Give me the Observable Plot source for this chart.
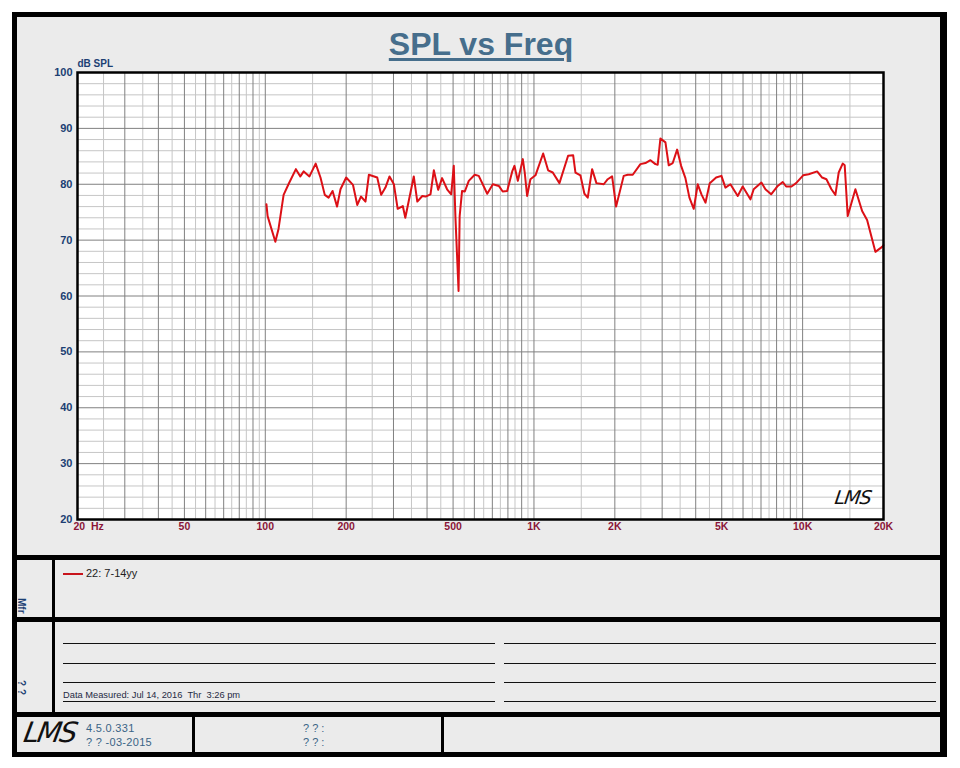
<!DOCTYPE html>
<html><head><meta charset="utf-8">
<script src="https://cdn.jsdelivr.net/npm/d3@7"></script>
<script src="https://cdn.jsdelivr.net/npm/@observablehq/plot@0.6"></script>
<style>
body{margin:0;background:#fff;font-family:Arial,"Liberation Sans",sans-serif;}
#page{position:relative;width:960px;height:768px;overflow:hidden;background:#fff;}
.abs{position:absolute;white-space:pre;}
.blk{position:absolute;background:#000;}
.ln{position:absolute;background:#111;height:1px;}
</style></head><body>
<div id="page">
  <div class="abs" style="left:12px;top:12px;width:935px;height:745px;background:#ebebeb;border:5px solid #000;border-right-width:7px;box-sizing:border-box;"></div>
  <div id="chart" class="abs" style="left:0;top:0;"></div>
  <div class="abs" style="left:0;top:28px;width:962px;text-align:center;font:bold 32px Arial,'Liberation Sans',sans-serif;line-height:32px;color:#466e8c;text-decoration:underline;text-decoration-thickness:3px;text-underline-offset:3px;">SPL vs Freq</div>
  <div class="abs" style="left:835px;top:486px;font:italic 300 19px 'DejaVu Sans','Liberation Sans',sans-serif;color:#111;letter-spacing:-1px;transform:skewX(-8deg);">LMS</div>
  <!-- dividers -->
  <div class="blk" style="left:12px;top:555px;width:935px;height:5px;"></div>
  <div class="blk" style="left:12px;top:617px;width:935px;height:5px;"></div>
  <div class="blk" style="left:12px;top:712px;width:935px;height:5px;"></div>
  <div class="blk" style="left:52px;top:560px;width:3px;height:152px;"></div>
  <div class="blk" style="left:192px;top:717px;width:3px;height:35px;"></div>
  <div class="blk" style="left:441px;top:717px;width:3px;height:35px;"></div>
  <!-- legend -->
  <div id="legend"></div>
  <div class="abs" style="left:16px;top:598px;font:bold 10px Arial,'Liberation Sans',sans-serif;color:#1c3f73;writing-mode:vertical-rl;">Mfr</div>
  <div class="abs" style="left:16px;top:680px;font:bold 10px Arial,'Liberation Sans',sans-serif;color:#1c3f73;writing-mode:vertical-rl;">? ?</div>
  <!-- note lines -->
  <div class="ln" style="left:63px;top:643px;width:432px;"></div>
  <div class="ln" style="left:63px;top:663px;width:432px;"></div>
  <div class="ln" style="left:63px;top:682px;width:432px;"></div>
  <div class="ln" style="left:63px;top:701px;width:432px;"></div>
  <div class="ln" style="left:504px;top:643px;width:432px;"></div>
  <div class="ln" style="left:504px;top:663px;width:432px;"></div>
  <div class="ln" style="left:504px;top:682px;width:432px;"></div>
  <div class="ln" style="left:504px;top:701px;width:432px;"></div>
  <div class="abs" style="left:63px;top:691px;font:9.3px Arial,'Liberation Sans',sans-serif;line-height:9.3px;color:#1f2a44;">Data Measured: Jul 14, 2016  Thr  3:26 pm</div>
  <!-- footer -->
  <div class="abs" style="left:24px;top:718px;font:italic 300 28px 'DejaVu Sans','Liberation Sans',sans-serif;line-height:30px;color:#111;letter-spacing:-2px;transform:skewX(-10deg);">LMS</div>
  <div class="abs" style="left:86px;top:723px;font:11px Arial,'Liberation Sans',sans-serif;line-height:11px;color:#3a6486;letter-spacing:0.3px;">4.5.0.331</div>
  <div class="abs" style="left:86px;top:737px;font:11px Arial,'Liberation Sans',sans-serif;line-height:11px;color:#3a6486;letter-spacing:0.3px;">? ? -03-2015</div>
  <div class="abs" style="left:303px;top:723px;font:11px Arial,'Liberation Sans',sans-serif;line-height:11px;color:#3a6486;">? ? :</div>
  <div class="abs" style="left:303px;top:737px;font:11px Arial,'Liberation Sans',sans-serif;line-height:11px;color:#3a6486;">? ? :</div>
</div>
<script>
// ---- data ----
const freqHz = [101,102,109,112,117,122,130,135,139,146,
  154,160.5,166.5,172,178,185,190.5,200,212,220,
  227,236,243,261,270,280,290,301,311,325,
  332,357,368,384,395,412,424,440,455,475,
  492,503,510,524,529,540,553,572,602,623,
  670,703,740,765,795,830,846,871,909,924,
  943,970,1013,1082,1129,1175,1244,1340,1399,1427,
  1489,1541,1586,1646,1708,1819,1882,1954,2022,2158,
  2234,2332,2490,2600,2714,2832,2888,2956,3086,3174,
  3285,3411,3530,3662,3790,3933,4071,4202,4349,4512,
  4765,4986,5160,5386,5734,5984,6393,6574,7024,7270,
  7634,8080,8434,8683,9087,9458,10044,10536,11324,11820,
  12264,12800,13243,13624,14098,14342,14716,15720,16652,17378,
  18656,19762,20000];
const splDb = [76.4,74.3,69.7,72.0,78.1,80.0,82.7,81.4,82.3,81.4,
  83.7,81.2,78.1,77.6,78.8,76.0,79.1,81.2,79.9,76.3,
  77.8,76.9,81.7,81.2,78.1,79.4,81.4,80.0,75.6,76.1,
  74.0,81.4,76.9,77.9,77.8,78.2,82.5,79.0,81.1,79.1,
  78.2,83.3,74.3,60.9,74.3,78.8,78.7,80.6,81.7,81.5,
  78.3,80.0,79.7,78.7,78.8,82.3,83.3,80.6,84.5,82.1,
  77.9,80.9,81.6,85.5,82.5,82.1,80.2,85.1,85.2,82.1,
  81.6,78.3,77.6,82.7,80.2,80.0,80.9,81.4,76.0,81.5,
  81.7,81.7,83.6,83.8,84.3,83.6,83.5,88.2,87.5,83.4,
  83.8,86.2,83.3,81.1,77.6,75.6,80.0,78.2,76.7,80.2,
  81.2,81.5,79.4,80.0,77.9,79.6,77.3,79.1,80.3,79.1,
  78.2,79.7,80.4,79.6,79.6,80.2,81.6,81.8,82.3,81.2,
  80.9,79.1,78.1,82.1,83.7,83.4,74.3,79.1,75.2,73.6,
  67.9,68.8,69.1];
const seriesName = "22: 7-14yy";
const xTicks = [20,50,100,200,500,1000,2000,5000,10000,20000];
const xTickLabels = ["20\u00a0\u00a0Hz","50","100","200","500","1K","2K","5K","10K","20K"];
const yTicks = [20,30,40,50,60,70,80,90,100];

// grid positions
const xMajor = [], xMinor = [];
for (const dec of [10,100,1000,10000]) {
  for (let k = 1; k <= 9; k++) {
    const v = k*dec; if (v >= 20 && v <= 20000) xMajor.push(v);
    const h = (k+0.5)*dec; if (h > 20 && h < 20000) xMinor.push(h);
  }
}
const yMinor = d3.range(22, 100, 2).filter(v => v % 10 !== 0);

const data = freqHz.map((f,i) => ({f, db: splDb[i]}));
const xLab = xTicks.map((v,i) => ({v, t: xTickLabels[i]}));
const font = "Arial, 'Liberation Sans', sans-serif";

const chart = Plot.plot({
  width: 960, height: 560,
  marginLeft: 77, marginRight: 77, marginTop: 72, marginBottom: 41,
  style: {background: "transparent", fontFamily: font, overflow: "visible"},
  x: {type: "log", domain: [20, 20000], axis: null},
  y: {domain: [20, 100]},
  marks: [
    Plot.frame({fill: "white", stroke: "none"}),
    Plot.ruleX(xMinor, {stroke: "#c6c6c6", strokeWidth: 1}),
    Plot.ruleY(yMinor, {stroke: "#c6c6c6", strokeWidth: 1}),
    Plot.ruleX(xMajor, {stroke: "#808080", strokeWidth: 1}),
    Plot.ruleY(yTicks, {stroke: "#808080", strokeWidth: 1}),
    Plot.line(data, {x: "f", y: "db", stroke: "#dc1016", strokeWidth: 2}),
    Plot.frame({stroke: "#000", strokeWidth: 2.5}),
    Plot.text(xLab.filter(d => d.v !== 20), {x: "v", text: "t", frameAnchor: "bottom", dy: 10.5,
      fill: "#8a1538", fontWeight: "bold", fontSize: 10.5, fontFamily: font}),
    Plot.text(xLab.filter(d => d.v === 20), {x: "v", text: "t", frameAnchor: "bottom", dy: 10.5, dx: -4,
      textAnchor: "start", fill: "#8a1538", fontWeight: "bold", fontSize: 10.5, fontFamily: font}),
    Plot.axisY({ticks: yTicks, tickSize: 0, tickPadding: 5, fill: "#1c3f73", fontWeight: "bold",
      fontSize: 11, fontFamily: font, label: null}),
    Plot.text(["dB SPL"], {frameAnchor: "top-left", text: d => d, dy: -13, textAnchor: "start",
      fill: "#1c3f73", fontWeight: "bold", fontSize: 10, fontFamily: font})
  ]
});
document.getElementById("chart").appendChild(chart);

// legend entry
const lg = document.getElementById("legend");
lg.innerHTML = `<div class="abs" style="left:63px;top:573px;width:20px;height:2px;background:#c8141c;"></div>
<div class="abs" style="left:86px;top:568px;font:11px ${font};line-height:11px;color:#222;">${seriesName}</div>`;
</script>
</body></html>
